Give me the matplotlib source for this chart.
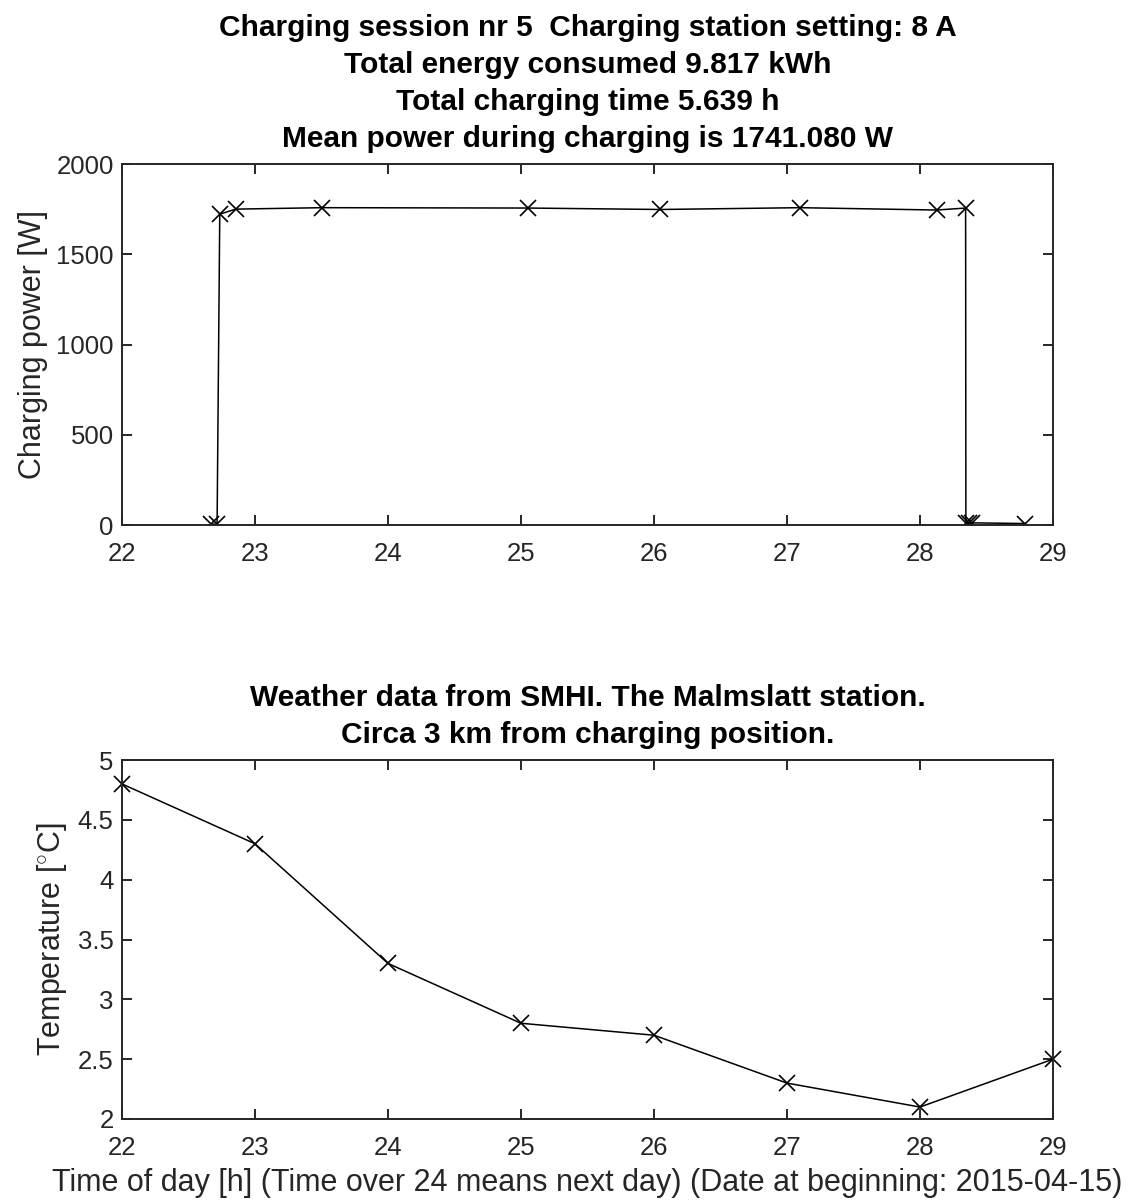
import numpy as np
import matplotlib
matplotlib.use('Agg')
import matplotlib.pyplot as plt

plt.rcParams['font.family'] = ['Liberation Sans', 'DejaVu Sans']
plt.rcParams['mathtext.fontset'] = 'custom'
plt.rcParams['mathtext.rm'] = 'Liberation Sans'

# charging session samples (hour of day, W)
power_time = [22.668, 22.715, 22.735, 22.855, 23.505, 25.05, 26.045, 27.10,
              28.125, 28.343, 28.345, 28.37, 28.39, 28.79]
power_w = [5, 5, 1722, 1750, 1758, 1756, 1748, 1758,
           1745, 1756, 12, 10, 12, 8]

# SMHI temperature
temp_time = [22, 23, 24, 25, 26, 27, 28, 29]
temp_c = [4.8, 4.3, 3.3, 2.8, 2.7, 2.3, 2.1, 2.5]

title_top = ('Charging session nr 5  Charging station setting: 8 A\n'
             'Total energy consumed 9.817 kWh\n'
             'Total charging time 5.639 h\n'
             'Mean power during charging is 1741.080 W')
title_bottom = ('Weather data from SMHI. The Malmslatt station.\n'
                'Circa 3 km from charging position.')

W, H = 1129, 1202
fig = plt.figure(figsize=(W / 100, H / 100), dpi=100)
ax1 = fig.add_axes([122 / W, 1 - 525 / H, 931 / W, 361 / H])
ax2 = fig.add_axes([122 / W, 1 - 1119 / H, 931 / W, 359 / H])

spine_col = '#262626'
for ax in (ax1, ax2):
    for s in ax.spines.values():
        s.set_color(spine_col)
        s.set_linewidth(1.4)
    ax.tick_params(direction='in', top=True, right=True, length=7, width=1.4,
                   color=spine_col, labelcolor=spine_col, labelsize=18.5)
    ax.tick_params(axis='x', pad=12)
    ax.tick_params(axis='y', pad=6)
    ax.set_xlim(22, 29)
    ax.set_xticks(range(22, 30))

ax1.plot(power_time, power_w, color='k', lw=1.1, marker='x', ms=11, mew=1.2)
ax1.set_ylim(0, 2000)
ax1.set_yticks([0, 500, 1000, 1500, 2000])
ax1.set_ylabel('Charging power [W]', fontsize=22, color=spine_col, labelpad=6)
ax1.set_title(title_top, fontsize=21.5, fontweight='bold', linespacing=1.42, pad=12)

ax2.plot(temp_time, temp_c, color='k', lw=1.1, marker='x', ms=11, mew=1.2,
         clip_on=False)
ax2.set_ylim(2, 5)
ax2.set_yticks([2, 2.5, 3, 3.5, 4, 4.5, 5])
ax2.set_yticklabels(['2', '2.5', '3', '3.5', '4', '4.5', '5'])
ax2.set_ylabel(r'Temperature [$^{\circ}$C]', fontsize=22, color=spine_col, labelpad=6)
ax2.set_xlabel('Time of day [h] (Time over 24 means next day) (Date at beginning: 2015-04-15)',
               fontsize=22, color=spine_col, labelpad=6)
ax2.set_title(title_bottom, fontsize=21.5, fontweight='bold', linespacing=1.42, pad=12)

fig.savefig('out.png', dpi=100)
